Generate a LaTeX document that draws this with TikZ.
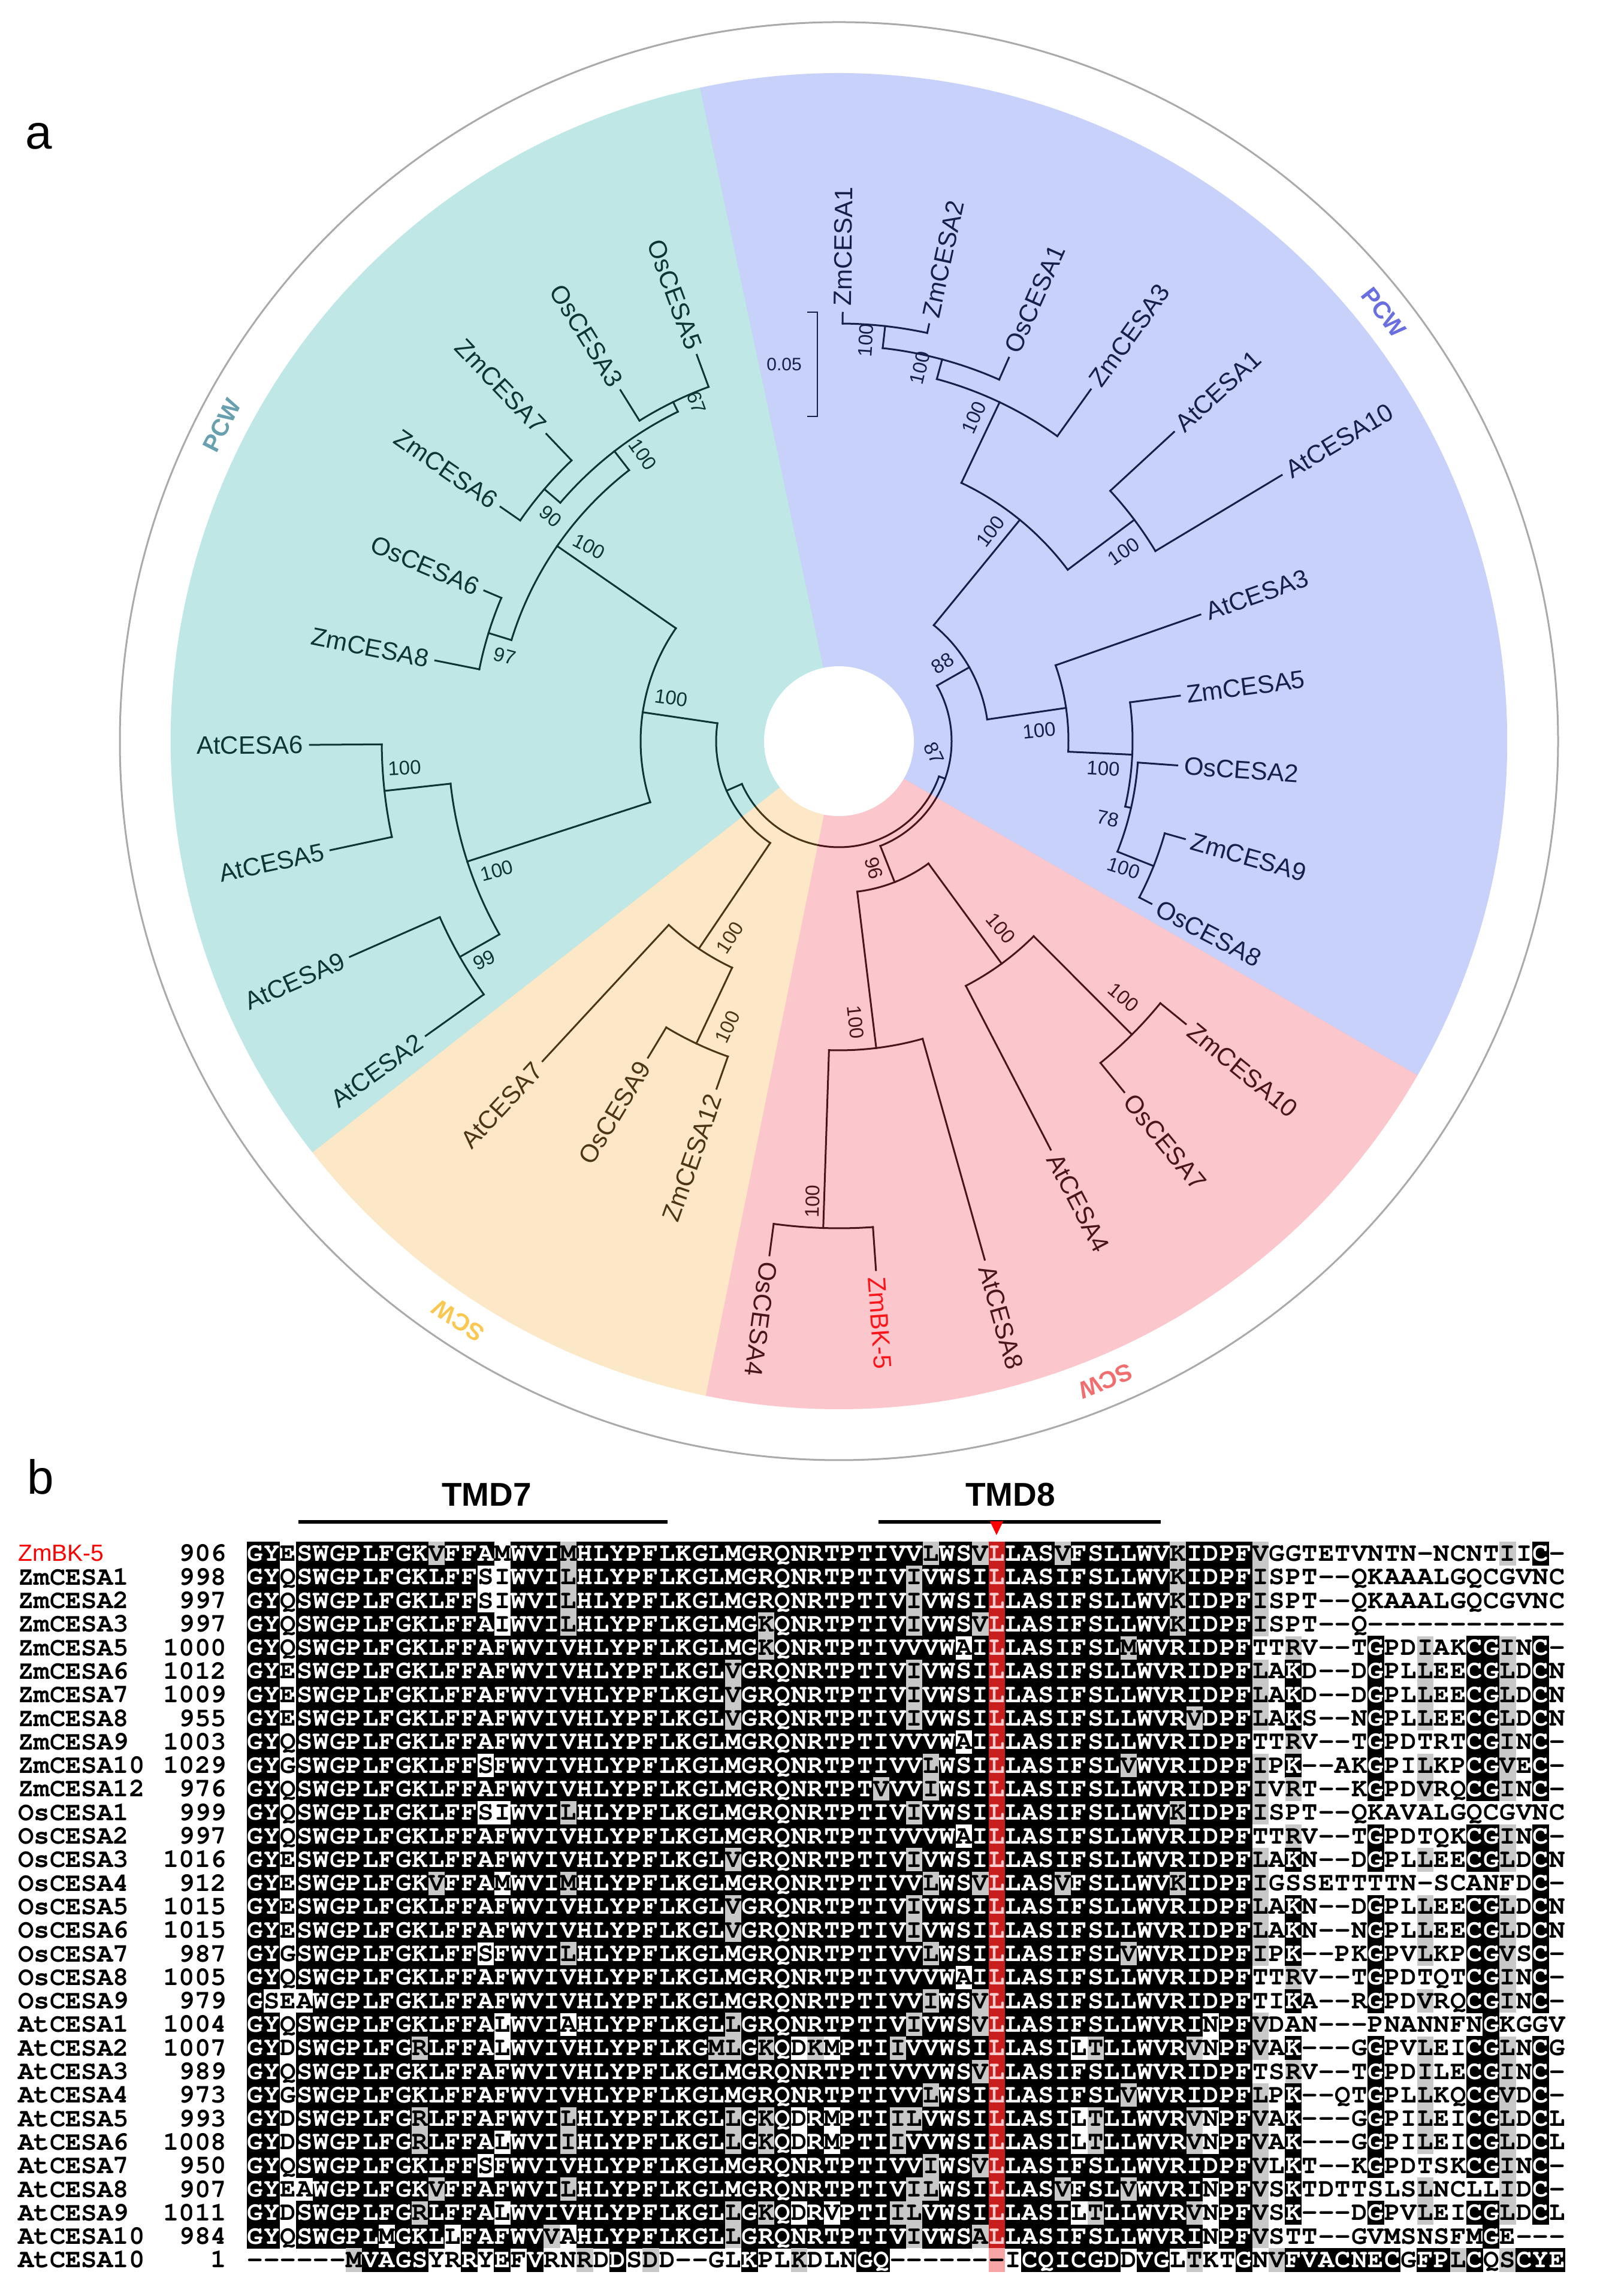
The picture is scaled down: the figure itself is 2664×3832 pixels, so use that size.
\documentclass[tikz,border=0pt]{standalone}
\usepackage{fontspec}
\setmainfont{Liberation Sans}
\newfontfamily\curfam{texgyrecursor-bold.otf}
\definecolor{tealc}{RGB}{42,178,172}
\definecolor{bluec}{RGB}{72,105,238}
\definecolor{pinkc}{RGB}{245,72,88}
\definecolor{orangec}{RGB}{248,178,72}
\definecolor{pcwteal}{RGB}{105,160,175}
\definecolor{pcwblue}{RGB}{105,110,225}
\definecolor{scworange}{RGB}{250,200,80}
\definecolor{scwpink}{RGB}{240,110,110}
\definecolor{agrey}{RGB}{200,200,200}
\definecolor{ared}{RGB}{200,30,30}
\definecolor{apinktxt}{RGB}{255,205,205}
\definecolor{apinkbg}{RGB}{248,165,165}
\definecolor{zmred}{RGB}{255,0,0}
\definecolor{ringgrey}{RGB}{170,170,170}
\newcommand\seqfont{\curfam\fontsize{44}{48}\selectfont}
\newcommand\zmbk{\textcolor{zmred}{\rmfamily\mdseries\fontsize{39}{44}\selectfont ZmBK-5}}
\tikzset{
  branch/.style={line width=3pt, line cap=rect, black},
  leaflbl/.style={font=\fontsize{42}{46}\selectfont, text=black},
  bs/.style={font=\fontsize{33}{36}\selectfont, inner sep=0pt},
  ringlbl/.style={font=\bfseries\fontsize{40}{44}\selectfont, inner sep=0pt},
}
\newcommand\tbr[3]{\draw[branch] (#1:#2) -- (#1:#3);}
\newcommand\tarc[3]{\draw[branch] (#1:#3) arc[start angle=#1, end angle=#2, radius=#3];}
\newcommand\tleaf[6]{%
  \draw[branch] (#2:#3) -- (#2:#4);
  \ifnum#6=0
    \node[leaflbl, anchor=west, rotate=#2] (#1) at (#2:#4+8) {#5};
  \else
    \pgfmathsetmacro\rr{#2-180}%
    \node[leaflbl, anchor=east, rotate=\rr] (#1) at (#2:#4+8) {#5};
  \fi}
\newcommand\alnhead[3]{%
  \pgfmathsetmacro\acy{1239-39.3*#1}%
  \node[anchor=base west, font=\seqfont, inner sep=0pt] (name#1) at (30,\acy-13) {#2};%
  \node[anchor=base east, font=\seqfont, inner sep=0pt] (num#1) at (378,\acy-13) {#3};}
\newcommand\alncell[4]{%
  \pgfmathsetmacro\acx{412+(#1-0.5)*27.5}%
  \pgfmathsetmacro\acy{1239-39.3*#2}%
  \def\actc{black}%
  \if b#4\fill[black] (\acx-14,\acy-19.9) rectangle (\acx+14,\acy+19.9);\def\actc{white}\fi
  \if g#4\fill[agrey] (\acx-13.75,\acy-19.65) rectangle (\acx+13.75,\acy+19.65);\fi
  \if r#4\fill[ared] (\acx-13.75,\acy-19.9) rectangle (\acx+13.75,\acy+19.9);\def\actc{apinktxt}\fi
  \if p#4\fill[apinkbg] (\acx-13.75,\acy-19.9) rectangle (\acx+13.75,\acy+19.9);\fi
  \node[text=\actc, font=\seqfont, anchor=base, inner sep=0pt] (c#2-#1) at (\acx,\acy-12.5) {#3};}
\ExplSyntaxOn
\str_new:N \l_aln_seq_str
\str_new:N \l_aln_shd_str
\NewDocumentCommand \alnrow { m m m m m }
  {
    \alnhead {#1} {#2} {#3}
    \str_set:Nn \l_aln_seq_str {#4}
    \str_remove_all:Nn \l_aln_seq_str { ~ }
    \str_set:Nn \l_aln_shd_str {#5}
    \str_remove_all:Nn \l_aln_shd_str { ~ }
    \int_step_inline:nn { 80 }
      {
        \use:e
          {
            \exp_not:N \alncell {##1} {#1}
              { \str_item:Nn \l_aln_seq_str {##1} }
              { \str_item:Nn \l_aln_shd_str {##1} }
          }
      }
  }
\ExplSyntaxOff
\begin{document}
\begin{tikzpicture}[x=1pt,y=1pt]
\useasboundingbox (0,0) rectangle (2664,3832);
\fill[white] (0,0) rectangle (2664,3832);
\node[font=\fontsize{80}{90}\selectfont, anchor=base west, inner sep=0pt] (lbla) at (42,3583) {a};
\node[font=\fontsize{80}{90}\selectfont, anchor=base west, inner sep=0pt] (lblb) at (45,1338) {b};

\begin{scope}[shift={(1400,2595)}]
% leaves
\tleaf{l0}{89.5}{697}{715}{ZmCESA1}{0}
\tleaf{l1}{77.8}{697}{712}{ZmCESA2}{0}
\tleaf{l2}{66.1}{660}{700}{OsCESA1}{0}
\tleaf{l3}{54.4}{626}{722}{ZmCESA3}{0}
\tleaf{l4}{42.7}{616}{761}{AtCESA1}{0}
\tleaf{l5}{31.0}{616}{862}{AtCESA10}{0}
\tleaf{l6}{19.3}{383}{639}{AtCESA3}{0}
\tleaf{l7}{7.6}{490}{574}{ZmCESA5}{0}
\tleaf{l8}{-4.1}{500}{566}{OsCESA2}{0}
\tleaf{l9}{-15.8}{565}{600}{ZmCESA9}{0}
\tleaf{l10}{-27.5}{565}{588}{OsCESA8}{0}
\tleaf{l11}{-39.2}{692}{747}{ZmCESA10}{0}
\tleaf{l12}{-50.9}{692}{755}{OsCESA7}{0}
\tleaf{l13}{-62.6}{460}{768}{AtCESA4}{0}
\tleaf{l14}{-74.3}{516}{899}{AtCESA8}{0}
\tleaf{l15}{-86.0}{813}{885}{\textcolor{zmred}{ZmBK-5}}{0}
\tleaf{l16}{-97.7}{813}{866}{OsCESA4}{0}
\tleaf{l17}{250.6}{558}{615}{ZmCESA12}{1}
\tleaf{l18}{238.9}{558}{617}{OsCESA9}{1}
\tleaf{l19}{227.2}{418}{728}{AtCESA7}{1}
\tleaf{l20}{215.5}{728}{847}{AtCESA2}{1}
\tleaf{l21}{203.8}{728}{892}{AtCESA9}{1}
\tleaf{l22}{192.1}{763}{868}{AtCESA5}{1}
\tleaf{l23}{180.4}{763}{883}{AtCESA6}{1}
\tleaf{l24}{168.7}{612}{687}{ZmCESA8}{1}
\tleaf{l25}{157.0}{612}{643}{OsCESA6}{1}
\tleaf{l26}{145.3}{647}{687}{ZmCESA6}{1}
\tleaf{l27}{133.6}{647}{708}{ZmCESA7}{1}
\tleaf{l28}{121.9}{630}{690}{OsCESA3}{1}
\tleaf{l29}{110.2}{630}{687}{OsCESA5}{1}
% blue internal
\tarc{77.8}{89.5}{697} \tbr{83.65}{660}{697}
\tarc{66.1}{83.65}{660} \tbr{74.875}{626}{660}
\tarc{54.4}{74.875}{626} \tbr{64.64}{477}{626}
\tarc{31.0}{42.7}{616} \tbr{36.85}{477}{616}
\tarc{36.85}{64.64}{477} \tbr{50.74}{250}{477}
\tarc{-27.5}{-15.8}{565} \tbr{-21.65}{500}{565}
\tarc{-21.65}{-4.1}{500} \tbr{-12.875}{490}{500}
\tarc{-12.875}{7.6}{490} \tbr{-2.64}{383}{490}
\tarc{-2.64}{19.3}{383} \tbr{8.33}{250}{383}
\tarc{8.33}{50.74}{250} \tbr{29.54}{188}{250}
% pink internal
\tarc{-50.9}{-39.2}{692} \tbr{-45.05}{460}{692}
\tarc{-62.6}{-45.05}{460} \tbr{-53.825}{253}{460}
\tarc{-97.7}{-86}{813} \tbr{-91.85}{516}{813}
\tarc{-91.85}{-74.3}{516} \tbr{-83.075}{253}{516}
\tarc{-83.075}{-53.825}{253} \tbr{-68.45}{188}{253}
\tarc{-68.45}{29.54}{188} \tbr{-19.455}{177}{188}
% orange internal
\tarc{238.9}{250.6}{558} \tbr{244.75}{418}{558}
\tarc{227.2}{244.75}{418} \tbr{235.975}{205}{418}
% teal internal
\tarc{110.2}{121.9}{630} \tbr{116.05}{612}{630}
\tarc{133.6}{145.3}{647} \tbr{139.45}{612}{647}
\tarc{116.05}{139.45}{612} \tbr{127.75}{572}{612}
\tarc{157}{168.7}{612} \tbr{162.85}{572}{612}
\tarc{127.75}{162.85}{572} \tbr{145.3}{331}{572}
\tarc{180.4}{192.1}{763} \tbr{186.25}{652}{763}
\tarc{203.8}{215.5}{728} \tbr{209.65}{652}{728}
\tarc{186.25}{209.65}{652} \tbr{197.95}{331}{652}
\tarc{145.3}{197.95}{331} \tbr{171.625}{205}{331}
\tarc{171.625}{235.975}{205} \tbr{203.8}{177}{205}
\tarc{203.8}{340.545}{177}
% bootstrap values
\node[bs, rotate=86] (b1) at (45,669) {100};
\node[bs, rotate=77] (b2) at (135,623) {100};
\node[bs, rotate=66] (b3) at (225,540) {100};
\node[bs, rotate=53] (b4) at (253,350) {100};
\node[bs, rotate=35] (b5) at (475,317) {100};
\node[bs, rotate=33] (b6) at (173,130) {88};
\node[bs, rotate=6] (b7) at (334,18) {100};
\node[bs, rotate=-3] (b8) at (441,-46) {100};
\node[bs, rotate=-12] (b9) at (449,-129) {78};
\node[bs, rotate=-18] (b10) at (475,-212) {100};
\node[bs, rotate=-65] (b11) at (159,-20) {87};
\node[bs, rotate=-75] (b12) at (58,-212) {96};
\node[bs, rotate=-50] (b13) at (270,-312) {100};
\node[bs, rotate=-40] (b14) at (475,-428) {100};
\node[bs, rotate=-84] (b15) at (28,-469) {100};
\node[bs, rotate=89] (b16) at (-44,-768) {100};
\node[bs, rotate=57] (b17) at (-182,-328) {100};
\node[bs, rotate=65] (b18) at (-186,-477) {100};
\node[bs, rotate=-8] (b19) at (-280,72) {100};
\node[bs, rotate=-28] (b20) at (-417,325) {100};
\node[bs, rotate=-55] (b21) at (-327,478) {100};
\node[bs, rotate=-70] (b22) at (-238,565) {67};
\node[bs, rotate=-40] (b23) at (-481,375) {90};
\node[bs, rotate=-15] (b24) at (-558,142) {97};
\node[bs, rotate=3] (b25) at (-725,-45) {100};
\node[bs, rotate=15] (b26) at (-571,-216) {100};
\node[bs, rotate=25] (b27) at (-592,-365) {99};
% scale bar
\coordinate (sb1) at (-53,716); \coordinate (sb2) at (-36,716);
\coordinate (sb3) at (-36,542); \coordinate (sb4) at (-53,542);
\draw[line width=2.5pt] (sb1) -- (sb2) -- (sb3) -- (sb4);
\node[font=\fontsize{30}{34}\selectfont, anchor=east, inner sep=0pt] (sbl) at (-62,629) {0.05};
% coloured ranges
\fill[tealc, fill opacity=0.3] (0,0) -- (102:1115) arc[start angle=102, end angle=218, radius=1115] -- cycle;
\fill[orangec, fill opacity=0.3] (0,0) -- (218:1115) arc[start angle=218, end angle=258.5, radius=1115] -- cycle;
\fill[pinkc, fill opacity=0.3] (0,0) -- (258.5:1115) arc[start angle=258.5, end angle=330, radius=1115] -- cycle;
\fill[bluec, fill opacity=0.3] (0,0) -- (-30:1115) arc[start angle=-30, end angle=102, radius=1115] -- cycle;
\fill[white] (0,0) circle (125);
\draw[ringgrey, line width=3pt] (0,0) circle (1200);
\node[ringlbl, text=pcwteal, rotate=62.9] (pcw1) at (152.9:1157) {PCW};
\node[ringlbl, text=pcwblue, rotate=-51.8] (pcw2) at (38.2:1157) {PCW};
\node[ringlbl, text=scworange, rotate=146.7] (scw1) at (236.7:1157) {SCW};
\node[ringlbl, text=scwpink, rotate=202.6] (scw2) at (292.6:1157) {SCW};
\end{scope}

% part b header
\node[font=\bfseries\fontsize{55}{60}\selectfont, anchor=base, inner sep=0pt] (tmd7) at (812,1318) {TMD7};
\node[font=\bfseries\fontsize{55}{60}\selectfont, anchor=base, inner sep=0pt] (tmd8) at (1686,1318) {TMD8};
\coordinate (t7a) at (498,1292); \coordinate (t7b) at (1114,1292);
\coordinate (t8a) at (1466,1292); \coordinate (t8b) at (1937,1292);
\draw[line width=6pt] (t7a) -- (t7b);
\draw[line width=6pt] (t8a) -- (t8b);
\fill[red] (1652,1293) -- (1674,1293) -- (1663,1270) -- cycle;

\alnrow{0}{\zmbk}{906}{GYESWGPLFG KVFFAMWVIM HLYPFLKGLM GRQNRTPTIV VLWSVLLASV FSLLWVKIDP FVGGTETVNT N-NCNTIIC-}{bbwbbbbbbb bgbbbwbbbg bbbbbbbbbb bbbbbbbbbb bgbbgrbbbg bbbbbbgbbb bgwwwwwwww wwwwwwgwbw}
\alnrow{1}{ZmCESA1}{998}{GYQSWGPLFG KLFFSIWVIL HLYPFLKGLM GRQNRTPTIV IVWSILLASI FSLLWVKIDP FISPT--QKA AALGQCGVNC}{bbwbbbbbbb bbbbwwbbbg bbbbbbbbbb bbbbbbbbbb gbbbbrbbbb bbbbbbgbbb bgwwwwwwww wwwwwwwwww}
\alnrow{2}{ZmCESA2}{997}{GYQSWGPLFG KLFFSIWVIL HLYPFLKGLM GRQNRTPTIV IVWSILLASI FSLLWVKIDP FISPT--QKA AALGQCGVNC}{bbwbbbbbbb bbbbwwbbbg bbbbbbbbbb bbbbbbbbbb gbbbbrbbbb bbbbbbgbbb bgwwwwwwww wwwwwwwwww}
\alnrow{3}{ZmCESA3}{997}{GYQSWGPLFG KLFFAIWVIL HLYPFLKGLM GKQNRTPTIV IVWSVLLASI FSLLWVKIDP FISPT--Q-- ----------}{bbwbbbbbbb bbbbbwbbbg bbbbbbbbbb bgbbbbbbbb gbbbgrbbbb bbbbbbgbbb bgwwwwwwww wwwwwwwwww}
\alnrow{4}{ZmCESA5}{1000}{GYQSWGPLFG KLFFAFWVIV HLYPFLKGLM GKQNRTPTIV VVWAILLASI FSLMWVRIDP FTTRV--TGP DIAKCGINC-}{bbwbbbbbbb bbbbbbbbbb bbbbbbbbbb bgbbbbbbbb bbbwbrbbbb bbbgbbbbbb bwwgwwwwbw wgwwbbgwbw}
\alnrow{5}{ZmCESA6}{1012}{GYESWGPLFG KLFFAFWVIV HLYPFLKGLV GRQNRTPTIV IVWSILLASI FSLLWVRIDP FLAKD--DGP LLEECGLDCN}{bbwbbbbbbb bbbbbbbbbb bbbbbbbbbg bbbbbbbbbb gbbbbrbbbb bbbbbbbbbb bgwbwwwwbw wgwwbbgwbw}
\alnrow{6}{ZmCESA7}{1009}{GYESWGPLFG KLFFAFWVIV HLYPFLKGLV GRQNRTPTIV IVWSILLASI FSLLWVRIDP FLAKD--DGP LLEECGLDCN}{bbwbbbbbbb bbbbbbbbbb bbbbbbbbbg bbbbbbbbbb gbbbbrbbbb bbbbbbbbbb bgwbwwwwbw wgwwbbgwbw}
\alnrow{7}{ZmCESA8}{955}{GYESWGPLFG KLFFAFWVIV HLYPFLKGLV GRQNRTPTIV IVWSILLASI FSLLWVRVDP FLAKS--NGP LLEECGLDCN}{bbwbbbbbbb bbbbbbbbbb bbbbbbbbbg bbbbbbbbbb gbbbbrbbbb bbbbbbbgbb bgwbwwwwbw wgwwbbgwbw}
\alnrow{8}{ZmCESA9}{1003}{GYQSWGPLFG KLFFAFWVIV HLYPFLKGLM GRQNRTPTIV VVWAILLASI FSLLWVRIDP FTTRV--TGP DTRTCGINC-}{bbwbbbbbbb bbbbbbbbbb bbbbbbbbbb bbbbbbbbbb bbbwbrbbbb bbbbbbbbbb bwwgwwwwbw wwwwbbgwbw}
\alnrow{9}{ZmCESA10}{1029}{GYGSWGPLFG KLFFSFWVIV HLYPFLKGLM GRQNRTPTIV VLWSILLASI FSLVWVRIDP FIPK--AKGP ILKPCGVEC-}{bbwbbbbbbb bbbbwbbbbb bbbbbbbbbb bbbbbbbbbb bgbbbrbbbb bbbgbbbbbb bgwbwwwwbw wgwwbbgwbw}
\alnrow{10}{ZmCESA12}{976}{GYQSWGPLFG KLFFAFWVIV HLYPFLKGLM GRQNRTPTVV VIWSILLASI FSLLWVRIDP FIVRT--KGP DVRQCGINC-}{bbwbbbbbbb bbbbbbbbbb bbbbbbbbbb bbbbbbbbgb bgbbbrbbbb bbbbbbbbbb bgwgwwwwbw wgwwbbgwbw}
\alnrow{11}{OsCESA1}{999}{GYQSWGPLFG KLFFSIWVIL HLYPFLKGLM GRQNRTPTIV IVWSILLASI FSLLWVKIDP FISPT--QKA VALGQCGVNC}{bbwbbbbbbb bbbbwwbbbg bbbbbbbbbb bbbbbbbbbb gbbbbrbbbb bbbbbbgbbb bgwwwwwwww wwwwwwwwww}
\alnrow{12}{OsCESA2}{997}{GYQSWGPLFG KLFFAFWVIV HLYPFLKGLM GRQNRTPTIV VVWAILLASI FSLLWVRIDP FTTRV--TGP DTQKCGINC-}{bbwbbbbbbb bbbbbbbbbb bbbbbbbbbb bbbbbbbbbb bbbwbrbbbb bbbbbbbbbb bwwgwwwwbw wwwwbbgwbw}
\alnrow{13}{OsCESA3}{1016}{GYESWGPLFG KLFFAFWVIV HLYPFLKGLV GRQNRTPTIV IVWSILLASI FSLLWVRIDP FLAKN--DGP LLEECGLDCN}{bbwbbbbbbb bbbbbbbbbb bbbbbbbbbg bbbbbbbbbb gbbbbrbbbb bbbbbbbbbb bgwbwwwwbw wgwwbbgwbw}
\alnrow{14}{OsCESA4}{912}{GYESWGPLFG KVFFAMWVIM HLYPFLKGLM GRQNRTPTIV VLWSVLLASV FSLLWVKIDP FIGSSETTTT N-SCANFDC-}{bbwbbbbbbb bgbbbwbbbg bbbbbbbbbb bbbbbbbbbb bgbbgrbbbg bbbbbbgbbb bgwwwwwwww wwwwwwwwbw}
\alnrow{15}{OsCESA5}{1015}{GYESWGPLFG KLFFAFWVIV HLYPFLKGLV GRQNRTPTIV IVWSILLASI FSLLWVRIDP FLAKN--DGP LLEECGLDCN}{bbwbbbbbbb bbbbbbbbbb bbbbbbbbbg bbbbbbbbbb gbbbbrbbbb bbbbbbbbbb bgwbwwwwbw wgwwbbgwbw}
\alnrow{16}{OsCESA6}{1015}{GYESWGPLFG KLFFAFWVIV HLYPFLKGLV GRQNRTPTIV IVWSILLASI FSLLWVRIDP FLAKN--NGP LLEECGLDCN}{bbwbbbbbbb bbbbbbbbbb bbbbbbbbbg bbbbbbbbbb gbbbbrbbbb bbbbbbbbbb bgwbwwwwbw wgwwbbgwbw}
\alnrow{17}{OsCESA7}{987}{GYGSWGPLFG KLFFSFWVIL HLYPFLKGLM GRQNRTPTIV VLWSILLASI FSLVWVRIDP FIPK--PKGP VLKPCGVSC-}{bbwbbbbbbb bbbbwbbbbg bbbbbbbbbb bbbbbbbbbb bgbbbrbbbb bbbgbbbbbb bgwbwwwwbw wgwwbbgwbw}
\alnrow{18}{OsCESA8}{1005}{GYQSWGPLFG KLFFAFWVIV HLYPFLKGLM GRQNRTPTIV VVWAILLASI FSLLWVRIDP FTTRV--TGP DTQTCGINC-}{bbwbbbbbbb bbbbbbbbbb bbbbbbbbbb bbbbbbbbbb bbbwbrbbbb bbbbbbbbbb bwwgwwwwbw wwwwbbgwbw}
\alnrow{19}{OsCESA9}{979}{GSEAWGPLFG KLFFAFWVIV HLYPFLKGLM GRQNRTPTIV VIWSVLLASI FSLLWVRIDP FTIKA--RGP DVRQCGINC-}{bwwwbbbbbb bbbbbbbbbb bbbbbbbbbb bbbbbbbbbb bgbbgrbbbb bbbbbbbbbb bwwbwwwwbw wgwwbbgwbw}
\alnrow{20}{AtCESA1}{1004}{GYQSWGPLFG KLFFALWVIA HLYPFLKGLL GRQNRTPTIV IVWSVLLASI FSLLWVRINP FVDAN---PN ANNFNGKGGV}{bbwbbbbbbb bbbbbwbbbw bbbbbbbbbg bbbbbbbbbb gbbbgrbbbb bbbbbbbbwb bgwwwwwwww wwwwwbwwww}
\alnrow{21}{AtCESA2}{1007}{GYDSWGPLFG RLFFALWVIV HLYPFLKGML GKQDKMPTII VVWSILLASI LTLLWVRVNP FVAK---GGP VLEICGLNCG}{bbwbbbbbbb gbbbbwbbbb bbbbbbbbgg bgbwgwbbbg bbbbbrbbbb wgbbbbbgwb bgwbwwwwbw wgwwbbgwbw}
\alnrow{22}{AtCESA3}{989}{GYQSWGPLFG KLFFAFWVIV HLYPFLKGLM GRQNRTPTIV VVWSVLLASI FSLLWVRIDP FTSRV--TGP DILECGINC-}{bbwbbbbbbb bbbbbbbbbb bbbbbbbbbb bbbbbbbbbb bbbbgrbbbb bbbbbbbbbb bwwgwwwwbw wgwwbbgwbw}
\alnrow{23}{AtCESA4}{973}{GYGSWGPLFG KLFFAFWVIV HLYPFLKGLM GRQNRTPTIV VLWSILLASI FSLVWVRIDP FLPK--QTGP LLKQCGVDC-}{bbwbbbbbbb bbbbbbbbbb bbbbbbbbbb bbbbbbbbbb bgbbbrbbbb bbbgbbbbbb bgwbwwwwbw wgwwbbgwbw}
\alnrow{24}{AtCESA5}{993}{GYDSWGPLFG RLFFAFWVIL HLYPFLKGLL GKQDRMPTII LVWSILLASI LTLLWVRVNP FVAK---GGP ILEICGLDCL}{bbwbbbbbbb gbbbbbbbbg bbbbbbbbbg bgbwbwbbbg gbbbbrbbbb wgbbbbbgwb bgwbwwwwbw wgwwbbgwbw}
\alnrow{25}{AtCESA6}{1008}{GYDSWGPLFG RLFFALWVII HLYPFLKGLL GKQDRMPTII VVWSILLASI LTLLWVRVNP FVAK---GGP ILEICGLDCL}{bbwbbbbbbb gbbbbwbbbg bbbbbbbbbg bgbwbwbbbg bbbbbrbbbb wgbbbbbgwb bgwbwwwwbw wgwwbbgwbw}
\alnrow{26}{AtCESA7}{950}{GYQSWGPLFG KLFFSFWVIV HLYPFLKGLM GRQNRTPTIV VIWSVLLASI FSLLWVRIDP FVLKT--KGP DTSKCGINC-}{bbwbbbbbbb bbbbwbbbbb bbbbbbbbbb bbbbbbbbbb bgbbgrbbbb bbbbbbbbbb bgwbwwwwbw wwwwbbgwbw}
\alnrow{27}{AtCESA8}{907}{GYEAWGPLFG KVFFAFWVIL HLYPFLKGLM GRQNRTPTIV ILWSILLASV FSLVWVRINP FVSKTDTTSL SLNCLLIDC-}{bbwwbbbbbb bgbbbbbbbg bbbbbbbbbb bbbbbbbbbb ggbbbrbbbg bbbgbbbbwb bgwbwwwwww wgwwwwgwbw}
\alnrow{28}{AtCESA9}{1011}{GYDSWGPLFG RLFFALWVIV HLYPFLKGLL GKQDRVPTII LVWSILLASI LTLLWVRVNP FVSK---DGP VLEICGLDCL}{bbwbbbbbbb gbbbbwbbbb bbbbbbbbbg bgbwbwbbbg gbbbbrbbbb wgbbbbbgwb bgwbwwwwbw wgwwbbgwbw}
\alnrow{29}{AtCESA10}{984}{GYQSWGPLMG KLLFAFWVVA HLYPFLKGLL GRQNRTPTIV IVWSALLASI FSLLWVRINP FVSTT--GVM SNSFMGE---}{bbwbbbbbwb bbwbbbbbgw bbbbbbbbbg bbbbbbbbbb gbbbgrbbbb bbbbbbbbwb bgwwwwwwww wwwwwbwwww}
\alnrow{30}{AtCESA10}{1}{------MVAG SYRRYEFVRN RDDSDD--GL KPLKDLNGQ- ------ICQI CGDDVGLTKT GNVFVACNEC GFPLCQSCYE}{wwwwwwgbbb bwwbwbwbww gwbwgwwwww bwwgwwwbbw wwwwwpwbbb bbbwbbwgww bwgbbbbbbb wbbgbwgbbb}
\end{tikzpicture}
\end{document}
